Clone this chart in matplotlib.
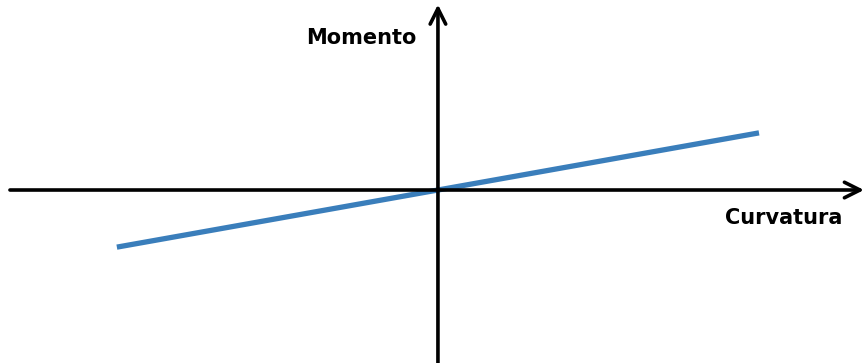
import matplotlib

matplotlib.use("Agg")
import matplotlib.pyplot as plt

# moment-curvature line (linear elastic), units normalised
curvature = [-1.0, 1.0]
moment = [-0.178, 0.178]

x_label = "Curvatura"
y_label = "Momento"

fig = plt.figure(figsize=(8.64, 3.63), dpi=100)
ax = fig.add_axes([0, 0, 1, 1])
ax.set_xlim(-1.364, 1.327)
ax.set_ylim(-0.539, 0.592)
ax.axis("off")

arrow = dict(arrowstyle="->", lw=2.6, color="black", mutation_scale=28,
             shrinkA=0, shrinkB=0)
ax.annotate("", xy=(1.327, 0), xytext=(-1.333, 0), arrowprops=arrow)
ax.annotate("", xy=(0, 0.578), xytext=(0, -0.539), arrowprops=arrow)

ax.plot(curvature, moment, color="#3a7ebb", lw=3.8, solid_capstyle="butt")

ax.text(1.077, -0.088, x_label, fontsize=15, fontweight="bold",
        ha="center", va="center")
ax.text(-0.24, 0.474, y_label, fontsize=15, fontweight="bold",
        ha="center", va="center")

fig.savefig("out.png", dpi=100)
